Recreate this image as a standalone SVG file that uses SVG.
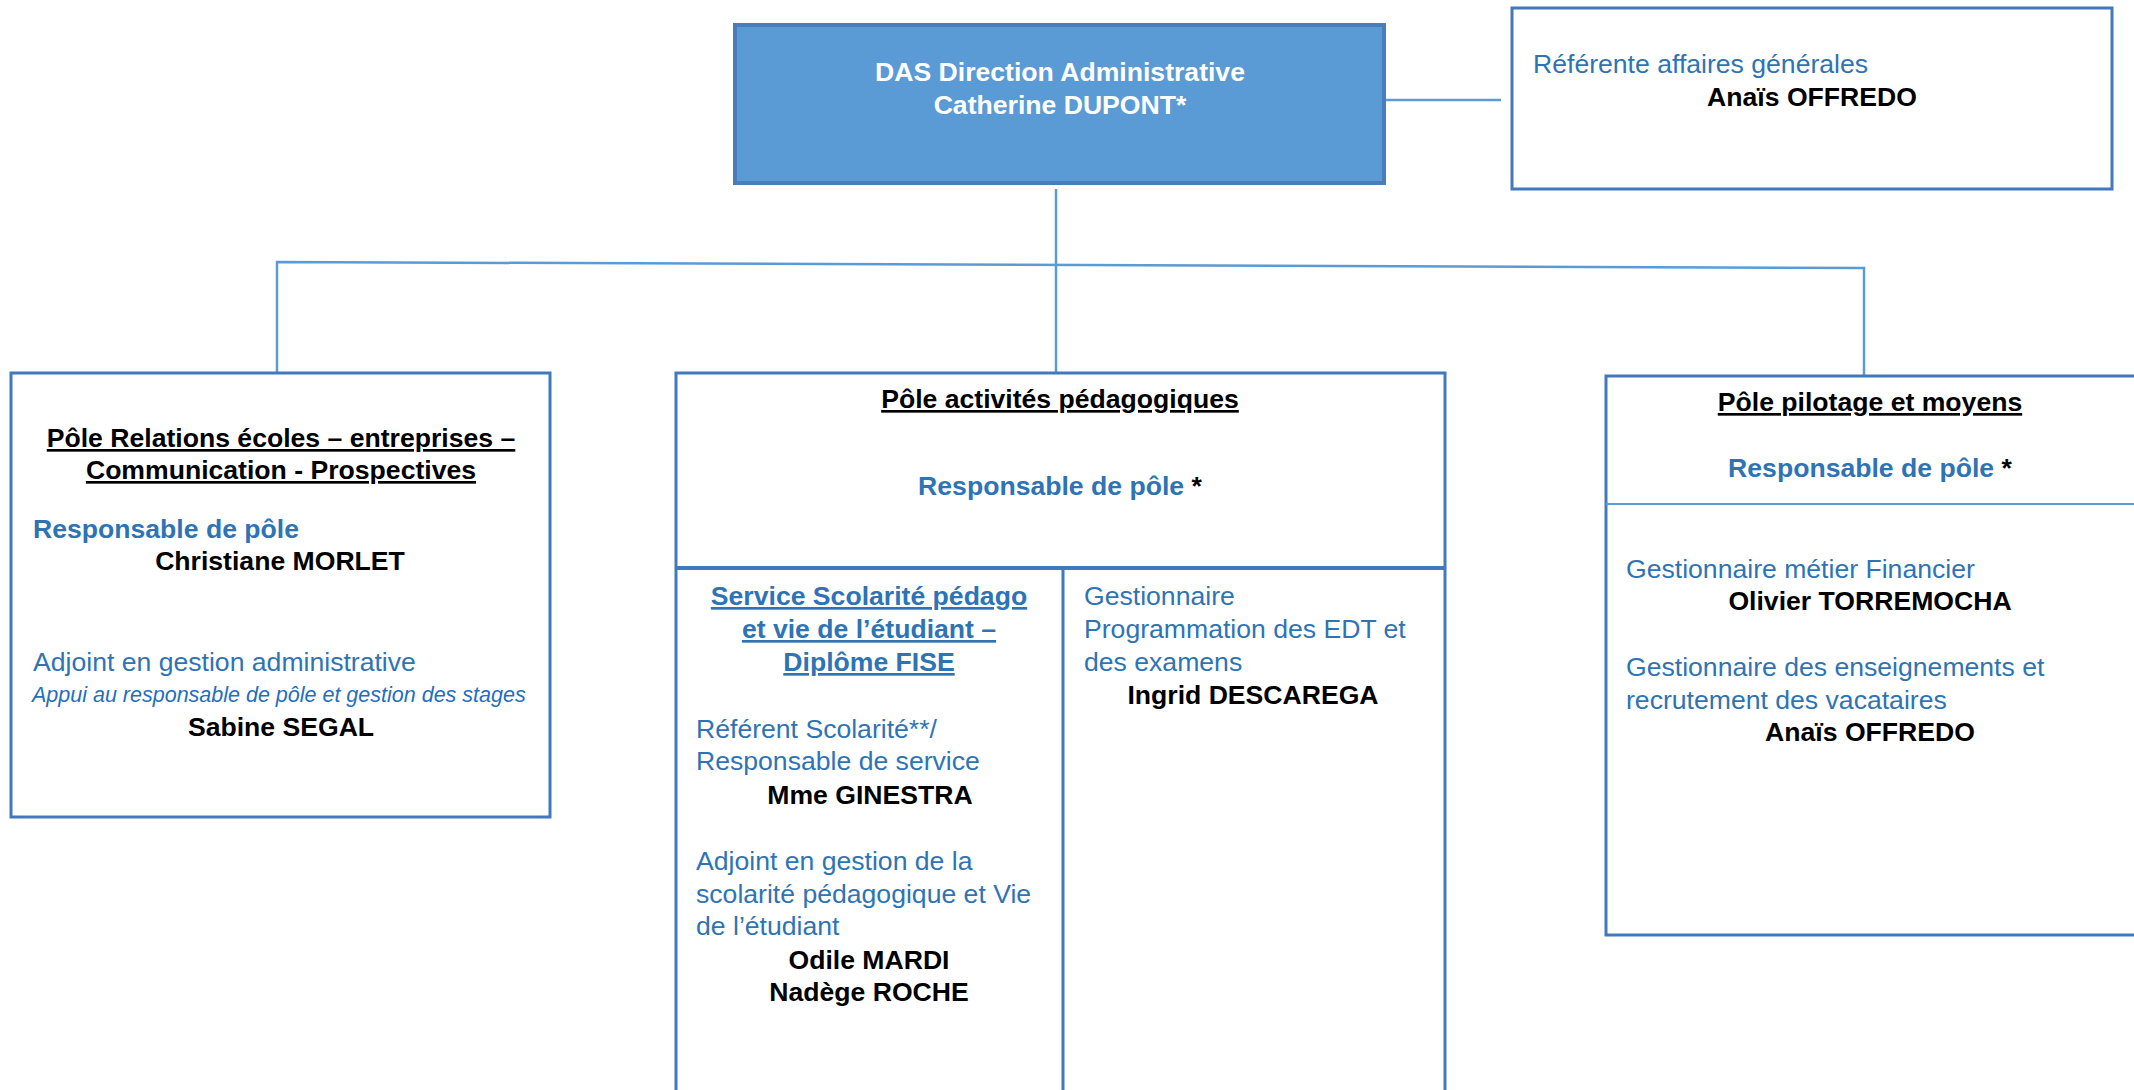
<svg xmlns="http://www.w3.org/2000/svg" width="2134" height="1090" viewBox="0 0 2134 1090">
<style>
.box{fill:#ffffff;stroke:#4178BE;stroke-width:3}
.conn{fill:none;stroke:#5B9BD5;stroke-width:2.5}
.t{font-family:"Liberation Sans",Arial,sans-serif;font-size:26.6px}
.b{font-weight:bold}
.blk{fill:#000000}
.blu{fill:#2E74B5}
.wht{fill:#ffffff}
.u{text-decoration:underline}
.c{text-anchor:middle}
.it{font-family:"Liberation Sans",Arial,sans-serif;font-size:21.5px;font-style:italic;fill:#1F6FC0}
</style>
<rect width="2134" height="1090" fill="#ffffff"/>
<g id="connectors">
<line class="conn" x1="1384" y1="100" x2="1501" y2="100"/>
<line class="conn" x1="1056" y1="189" x2="1056" y2="373"/>
<polyline class="conn" points="277,373 277,262 1864,268 1864,377"/>
</g>
<g id="das">
<rect x="735" y="25" width="649" height="158" fill="#5B9BD5" stroke="#4A7EBB" stroke-width="4"/>
<text class="t b wht c" x="1060" y="81">DAS Direction Administrative</text>
<text class="t b wht c" x="1060" y="114">Catherine DUPONT*</text>
</g>
<g id="referente">
<rect class="box" x="1512" y="8" width="600" height="181"/>
<text class="t blu" x="1533" y="73">Référente affaires générales</text>
<text class="t b blk c" x="1812" y="106">Anaïs OFFREDO</text>
</g>
<g id="pole-relations">
<rect class="box" x="11" y="373" width="539" height="444"/>
<text class="t b blk c u" x="281" y="447">Pôle Relations écoles – entreprises –</text>
<text class="t b blk c u" x="281" y="479">Communication - Prospectives</text>
<text class="t b blu" x="33" y="538">Responsable de pôle</text>
<text class="t b blk c" x="280" y="570">Christiane MORLET</text>
<text class="t blu" x="33" y="671">Adjoint en gestion administrative</text>
<text class="it" x="32" y="702">Appui au responsable de pôle et gestion des stages</text>
<text class="t b blk c" x="281" y="736">Sabine SEGAL</text>
</g>
<g id="pole-activites">
<rect class="box" x="676" y="373" width="769" height="760"/>
<line x1="676" y1="568" x2="1445" y2="568" stroke="#4178BE" stroke-width="4"/>
<line x1="1063" y1="568" x2="1063" y2="1095" stroke="#4178BE" stroke-width="3"/>
<text class="t b blk c u" x="1060" y="408">Pôle activités pédagogiques</text>
<text class="t b c" x="1060" y="495"><tspan class="blu">Responsable de pôle </tspan><tspan class="blk">*</tspan></text>
<text class="t b blu c u" x="869" y="605">Service Scolarité pédago</text>
<text class="t b blu c u" x="869" y="638">et vie de l’étudiant –</text>
<text class="t b blu c u" x="869" y="671">Diplôme FISE</text>
<text class="t blu" x="696" y="738">Référent Scolarité**/</text>
<text class="t blu" x="696" y="770">Responsable de service</text>
<text class="t b blk c" x="870" y="804">Mme GINESTRA</text>
<text class="t blu" x="696" y="870">Adjoint en gestion de la</text>
<text class="t blu" x="696" y="903">scolarité pédagogique et Vie</text>
<text class="t blu" x="696" y="935">de l’étudiant</text>
<text class="t b blk c" x="869" y="969">Odile MARDI</text>
<text class="t b blk c" x="869" y="1001">Nadège ROCHE</text>
<text class="t blu" x="1084" y="605">Gestionnaire</text>
<text class="t blu" x="1084" y="638">Programmation des EDT et</text>
<text class="t blu" x="1084" y="671">des examens</text>
<text class="t b blk c" x="1253" y="704">Ingrid DESCAREGA</text>
</g>
<g id="pole-pilotage">
<rect class="box" x="1606" y="376" width="540" height="559"/>
<line x1="1606" y1="504" x2="2134" y2="504" stroke="#5B9BD5" stroke-width="2"/>
<text class="t b blk c u" x="1870" y="411">Pôle pilotage et moyens</text>
<text class="t b c" x="1870" y="477"><tspan class="blu">Responsable de pôle </tspan><tspan class="blk">*</tspan></text>
<text class="t blu" x="1626" y="578">Gestionnaire métier Financier</text>
<text class="t b blk c" x="1870" y="610">Olivier TORREMOCHA</text>
<text class="t blu" x="1626" y="676">Gestionnaire des enseignements et</text>
<text class="t blu" x="1626" y="709">recrutement des vacataires</text>
<text class="t b blk c" x="1870" y="741">Anaïs OFFREDO</text>
</g>
</svg>
